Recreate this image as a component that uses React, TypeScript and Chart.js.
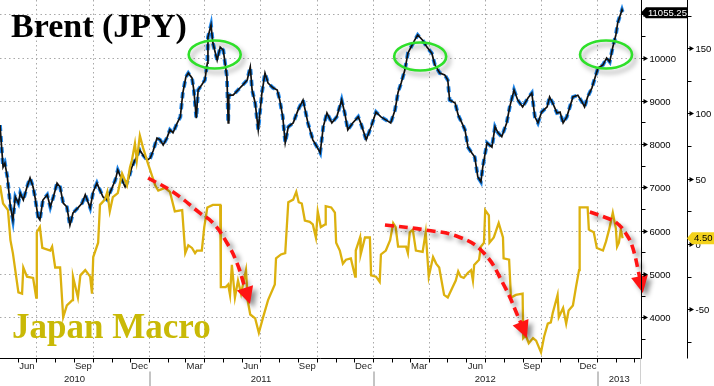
import React, { useEffect, useRef } from "react";
import { Chart, registerables } from "chart.js";
Chart.register(...registerables);

// x values are days counted from 2011-01-01
const brentDays = [-243,-238,-235,-231,-226,-222,-218,-213,-210,-205,-199,-194,-189,-186,-181,-178,-173,-166,-161,-156,-150,-145,-140,-134,-129,-124,-116,-109,-104,-99,-96,-91,-85,-80,-75,-68,-64,-55,-51,-44,-39,-34,-28,-23,-15,-10,-3,2,7,13,18,23,29,34,39,46,51,55,60,64,70,73,77,80,86,91,95,96,101,104,111,116,121,127,129,130,137,145,153,160,165,168,173,178,184,189,194,202,209,213,218,222,227,235,243,251,259,267,274,279,284,290,298,306,314,319,324,332,341,345,354,362,370,378,386,394,401,406,411,417,422,427,433,438,446,453,461,466,474,482,487,490,499,504,510,515,520,526,531,536,541,544,551,559,564,569,575,583,588,595,601,609,618,624,629,634,640,649,653,658,665,670,675,681,686,691,699,706,710,715,722,727,732,740,746,751,756,761,764,771,772];
const brentValues = [8440,7470,7560,7240,6550,6250,6780,6640,6870,6710,7010,7220,7010,6780,6320,6250,6710,6830,6550,6780,7100,7010,6640,6550,6130,6410,6530,6640,6830,6640,6530,6900,7100,6940,6780,6710,6870,7170,7400,7170,7010,7170,7470,7630,7860,7750,7630,7680,7860,8140,8100,7980,8140,8330,8260,8490,8630,9180,9550,9640,9530,9250,8600,9250,9370,9480,9870,10470,10750,10340,9940,10240,10170,9550,8490,9130,9130,9250,9370,9480,9780,9250,8950,8330,9180,9640,9410,9300,9250,9020,8630,8030,8400,8490,8790,9020,8490,8100,7930,7800,8400,8720,8490,8630,9020,8720,8330,8490,8630,8490,8100,8400,8740,8630,8560,8490,8790,9200,9410,9710,10100,10240,10400,10520,10400,10240,10100,9830,9640,9600,9480,9020,8950,8670,8490,8330,7930,7800,7700,7240,7130,7470,8030,7930,8400,8260,8170,8490,8860,9250,9020,8860,9070,9180,8630,8490,8740,8860,9090,8950,8720,8740,8490,8630,8860,9090,9130,8970,8860,9090,9300,9530,9760,9830,9990,9900,10240,10520,10800,11100,11055.25];

const macroDays = [-243,-238,-230,-226,-222,-213,-207,-205,-199,-189,-184,-183,-178,-174,-161,-158,-153,-145,-140,-134,-125,-124,-116,-112,-104,-96,-93,-91,-83,-80,-72,-68,-64,-59,-51,-44,-36,-31,-28,-23,-20,-15,-10,-2,10,15,26,34,42,54,59,64,70,75,78,86,90,95,104,109,116,117,125,129,132,135,140,145,150,158,161,165,173,179,186,194,205,207,215,222,227,235,240,244,249,254,262,267,272,275,280,287,288,297,303,305,311,316,321,329,336,337,344,345,352,360,362,370,376,378,386,393,398,402,406,419,422,425,430,435,446,451,456,463,468,473,481,487,495,500,504,508,513,520,525,528,530,538,541,546,548,554,555,562,570,577,578,587,590,598,609,610,614,619,626,631,639,644,650,655,658,666,668,675,680,684,691,696,701,702,715,717,725,730,740,745,750,756,761,763,766,769,772];
const macroValues = [45,31,26,3,-7,-37,-38,-18,-25,-26,-41,9,13,-3,-5,-2,-18,-18,-56,-47,-43,-25,-41,-24,-20,-25,-38,-10,1,30,34,40,25,36,39,54,45,59,64,77,64,83,74,62,45,41,43,40,25,26,-7,-1,-3,-7,-5,-5,13,28,30,30,30,-33,-33,-31,-39,-16,-41,-28,-38,-20,-44,-54,-57,-68,-56,-43,-31,-11,-8,-7,32,34,40,32,31,18,17,15,5,25,13,15,29,28,24,1,-5,-15,-12,-11,-25,-5,5,-8,5,5,-24,-25,-29,-8,-5,3,16,13,-2,-2,-7,9,11,-5,-6,9,-25,-10,-15,-18,-39,-41,-33,-28,-21,-25,-26,-22,-20,-28,-16,-12,-2,1,26,22,1,5,16,5,-11,-12,-41,-39,-38,-72,-70,-76,-72,-74,-83,-71,-61,-60,-53,-39,-56,-49,-61,-51,-47,-33,-20,28,28,11,9,-3,-5,2,11,24,12,-2,1,11,4.5];

// annotation arrows (in days / Japan Macro units)
const arrow1Days = [-1.6, 39.1, 83.1, 104.3, 127.1, 143.4, 156.4];
const arrow1Values = [50.6, 39.8, 23.7, 16.1, 0.8, -14.6, -33.7];
const arrow2Days = [384.6, 451.4, 505.1, 544.2, 576.8, 606.2];
const arrow2Values = [14.6, 10.7, 5.4, -6.1, -29.9, -60.5];
const arrow3Days = [718.6, 746.3, 762.6, 778.9, 788.7, 800.1];
const arrow3Values = [24.5, 19.9, 16.1, 6.9, -3.1, -26.0];
const arrowTipDays = [164.6, 616.0, 805.0];
const arrowTipValues = [-46.0, -72.0, -37.5];

// highlighted tops (days / Brent units)
const ellipseDays = [107, 442, 745];
const ellipseValues = [10070, 10023, 10070];

const brentTicks = [4000, 5000, 6000, 7000, 8000, 9000, 10000, 11000];
const brentMinorTicks = [3500, 4500, 5500, 6500, 7500, 8500, 9500, 10500];
const macroTicks = [150, 100, 50, 0, -50];
const macroMinorTicks = [175, 125, 75, 25, -25, -75];
const monthNames = ["Jan","Feb","Mar","Apr","May","Jun","Jul","Aug","Sep","Oct","Nov","Dec"];
const labelledMonths = ["Mar","Jun","Sep","Dec"];
const years = [2010, 2011, 2012, 2013];

const BASE = Date.UTC(2011, 0, 1);
const dayOf = (y: number, m: number) => (Date.UTC(y, m, 1) - BASE) / 86400000;
const X_MIN = -243;
const X_MAX = 802;

const pts = (xs: number[], ys: number[]) => xs.map((x, i) => ({ x, y: ys[i] }));

const LABEL_FONT = "9.5px 'Liberation Sans', Arial, sans-serif";

const overlay = {
  id: "overlay",
  beforeDatasetsDraw(chart: any) {
    const { ctx, chartArea: ca, scales } = chart;
    const x = scales.x, yB = scales.yB;
    ctx.save();
    ctx.strokeStyle = "#a9a9a9";
    ctx.lineWidth = 1;
    ctx.setLineDash([1.5, 3]);
    for (const v of brentTicks) {
      const y = Math.round(yB.getPixelForValue(v)) + 0.5;
      ctx.beginPath(); ctx.moveTo(ca.left, y); ctx.lineTo(ca.right, y); ctx.stroke();
    }
    for (let yr = 2010; yr <= 2013; yr++) {
      for (let m = 0; m < 12; m += 3) {
        const d = dayOf(yr, m);
        if (d <= X_MIN || d >= X_MAX) continue;
        const px = Math.round(x.getPixelForValue(d)) + 0.5;
        ctx.beginPath(); ctx.moveTo(px, ca.top); ctx.lineTo(px, ca.bottom); ctx.stroke();
      }
    }
    ctx.restore();
  },
  beforeDatasetDraw(chart: any, args: any) {
    const ds = chart.data.datasets[args.index];
    if (ds.isArrow) {
      const ctx = chart.ctx;
      ctx.save();
      ctx.shadowColor = "rgba(0,0,0,0.45)";
      ctx.shadowBlur = 5;
      ctx.shadowOffsetX = 4;
      ctx.shadowOffsetY = 4;
    }
  },
  afterDatasetDraw(chart: any, args: any) {
    const ds = chart.data.datasets[args.index];
    if (ds.isArrow) chart.ctx.restore();
  },
  afterDatasetsDraw(chart: any) {
    const { ctx, chartArea: ca, scales } = chart;
    const x = scales.x, yB = scales.yB, yM = scales.yM;
    ctx.save();

    // arrowheads
    const arrowLines = [
      [arrow1Days, arrow1Values], [arrow2Days, arrow2Values], [arrow3Days, arrow3Values],
    ];
    arrowLines.forEach((a, i) => {
      const xs = a[0], ys = a[1];
      const lx = x.getPixelForValue(xs[xs.length - 1]);
      const ly = yM.getPixelForValue(ys[ys.length - 1]);
      const tx = x.getPixelForValue(arrowTipDays[i]);
      const ty = yM.getPixelForValue(arrowTipValues[i]);
      const dx = tx - lx, dy = ty - ly;
      const len = Math.hypot(dx, dy);
      const ux = dx / len, uy = dy / len;
      const L = 17, W = 8.5;
      const bx = tx - ux * L, by = ty - uy * L;
      ctx.save();
      ctx.shadowColor = "rgba(0,0,0,0.45)";
      ctx.shadowBlur = 5;
      ctx.shadowOffsetX = 4;
      ctx.shadowOffsetY = 4;
      ctx.fillStyle = "#ff1414";
      ctx.beginPath();
      ctx.moveTo(tx, ty);
      ctx.lineTo(bx - uy * W, by + ux * W);
      ctx.lineTo(bx + uy * W, by - ux * W);
      ctx.closePath();
      ctx.fill();
      ctx.restore();
    });

    // green ellipses
    ellipseDays.forEach((d, i) => {
      const cx = x.getPixelForValue(d);
      const cy = yB.getPixelForValue(ellipseValues[i]);
      ctx.save();
      ctx.shadowColor = "rgba(0,0,0,0.35)";
      ctx.shadowBlur = 5;
      ctx.shadowOffsetX = 3;
      ctx.shadowOffsetY = 4;
      ctx.strokeStyle = "#2fe02a";
      ctx.lineWidth = 2.6;
      ctx.beginPath();
      ctx.ellipse(cx, cy, 26, 14, 0, 0, Math.PI * 2);
      ctx.stroke();
      ctx.restore();
    });

    // axis lines
    ctx.strokeStyle = "#000";
    ctx.fillStyle = "#000";
    ctx.lineWidth = 1;
    const bottom = Math.round(ca.bottom) + 0.5;
    const right1 = Math.round(ca.right) + 0.5;
    const right2 = right1 + 46;
    ctx.beginPath(); ctx.moveTo(0, bottom); ctx.lineTo(right1, bottom); ctx.stroke();
    ctx.beginPath(); ctx.moveTo(right1, 0); ctx.lineTo(right1, bottom); ctx.stroke();
    ctx.beginPath(); ctx.moveTo(right2, 0); ctx.lineTo(right2, bottom); ctx.stroke();

    // month ticks + labels
    ctx.font = LABEL_FONT;
    ctx.fillStyle = "#222";
    ctx.textAlign = "center";
    ctx.textBaseline = "middle";
    for (let yr = 2010; yr <= 2013; yr++) {
      for (let m = 0; m < 12; m++) {
        const d = dayOf(yr, m);
        const dn = dayOf(yr, m + 1);
        if (d >= X_MIN && d <= X_MAX) {
          const px = Math.round(x.getPixelForValue(d)) + 0.5;
          ctx.beginPath(); ctx.moveTo(px, bottom); ctx.lineTo(px, bottom + 4); ctx.stroke();
        }
        if (labelledMonths.includes(monthNames[m]) && d >= X_MIN && dn <= X_MAX) {
          const cx = x.getPixelForValue((d + dn) / 2);
          ctx.fillText(monthNames[m], cx, bottom + 8);
        }
      }
    }
    // years
    years.forEach((yr) => {
      const s = Math.max(dayOf(yr, 0), X_MIN);
      const e = Math.min(dayOf(yr + 1, 0), X_MAX);
      const cx = (x.getPixelForValue(s) + x.getPixelForValue(e)) / 2;
      ctx.fillText(String(yr), cx, bottom + 20.5);
      const j = dayOf(yr, 0);
      if (j > X_MIN && j < X_MAX) {
        const px = Math.round(x.getPixelForValue(j)) + 1;
        ctx.save();
        ctx.strokeStyle = "#c4c4c4";
        ctx.lineWidth = 2;
        ctx.beginPath(); ctx.moveTo(px, bottom + 13); ctx.lineTo(px, chart.height); ctx.stroke();
        ctx.restore();
      }
    });
    ctx.save();
    ctx.strokeStyle = "#d0d0d0";
    ctx.beginPath(); ctx.moveTo(right1 - 1, bottom); ctx.lineTo(right1 - 1, chart.height - 2); ctx.stroke();
    ctx.restore();

    // right axis ticks
    const arrowTick = (ax: number, y: number) => {
      ctx.beginPath(); ctx.moveTo(ax, y); ctx.lineTo(ax + 3, y); ctx.stroke();
      ctx.beginPath(); ctx.moveTo(ax + 2, y - 2.5); ctx.lineTo(ax + 6.5, y); ctx.lineTo(ax + 2, y + 2.5); ctx.closePath(); ctx.fill();
    };
    ctx.fillStyle = "#000";
    ctx.textAlign = "left";
    for (const v of brentTicks) {
      const y = Math.round(yB.getPixelForValue(v)) + 0.5;
      arrowTick(right1, y);
      ctx.fillText(String(v), right1 + 8, y + 0.5);
    }
    for (const v of brentMinorTicks) {
      const y = Math.round(yB.getPixelForValue(v)) + 0.5;
      ctx.beginPath(); ctx.moveTo(right1, y); ctx.lineTo(right1 + 4, y); ctx.stroke();
    }
    for (const v of macroTicks) {
      const y = Math.round(yM.getPixelForValue(v)) + 0.5;
      arrowTick(right2, y);
      ctx.fillText(String(v), right2 + 8, y + 0.5);
    }
    for (const v of macroMinorTicks) {
      const y = Math.round(yM.getPixelForValue(v)) + 0.5;
      ctx.beginPath(); ctx.moveTo(right2, y); ctx.lineTo(right2 + 4, y); ctx.stroke();
    }

    // last value tags
    const tag = (ax: number, y: number, w: number, h: number, fill: string, color: string, text: string) => {
      ctx.fillStyle = fill;
      ctx.beginPath();
      ctx.moveTo(ax, y);
      ctx.lineTo(ax + 5, y - h / 2);
      ctx.lineTo(ax + w, y - h / 2);
      ctx.lineTo(ax + w, y + h / 2);
      ctx.lineTo(ax + 5, y + h / 2);
      ctx.closePath();
      ctx.fill();
      ctx.fillStyle = color;
      ctx.textAlign = "left";
      ctx.fillText(text, ax + 7, y + 0.5);
    };
    const lastB = brentValues[brentValues.length - 1];
    tag(right1 - 0.5, yB.getPixelForValue(lastB) + 1, 47, 11, "#000", "#fff", lastB.toFixed(2));
    const lastM = macroValues[macroValues.length - 1];
    tag(right2 - 0.5, yM.getPixelForValue(lastM), 32, 12, "#f3d21c", "#000", lastM.toFixed(2));

    // titles
    ctx.textBaseline = "alphabetic";
    ctx.textAlign = "left";
    ctx.fillStyle = "#000";
    ctx.font = "bold 34px 'Liberation Serif', 'Times New Roman', serif";
    ctx.fillText("Brent (JPY)", 11, 37);
    ctx.fillStyle = "#c9b906";
    ctx.font = "bold 35px 'Liberation Serif', 'Times New Roman', serif";
    ctx.fillText("Japan Macro", 12, 338);
    ctx.restore();
  },
};

export default function App() {
  const ref = useRef<HTMLCanvasElement | null>(null);
  useEffect(() => {
    if (!ref.current) return;
    const arrowDs = (xs: number[], ys: number[]) => ({
      data: pts(xs, ys),
      yAxisID: "yM",
      borderColor: "#ff1414",
      borderWidth: 3.6,
      borderDash: [9, 5],
      borderCapStyle: "butt",
      pointRadius: 0,
      tension: 0.45,
      fill: false,
      clip: false,
      order: 0,
      isArrow: true,
    });
    const chart = new Chart(ref.current, {
      type: "line",
      data: {
        datasets: [
          arrowDs(arrow1Days, arrow1Values),
          arrowDs(arrow2Days, arrow2Values),
          arrowDs(arrow3Days, arrow3Values),
          {
            label: "Japan Macro",
            data: pts(macroDays, macroValues),
            yAxisID: "yM",
            borderColor: "#dcb10e",
            borderWidth: 2.3,
            pointRadius: 0,
            tension: 0,
            order: 1,
          },
          {
            label: "Brent (JPY)",
            data: pts(brentDays, brentValues),
            yAxisID: "yB",
            borderColor: "#111111",
            borderWidth: 1.7,
            pointRadius: 0,
            tension: 0,
            order: 2,
          },
          {
            label: "Brent (JPY) down days",
            data: pts(brentDays, brentValues),
            yAxisID: "yB",
            borderColor: "#1f86ea",
            borderWidth: 3.8,
            borderDash: [6, 5],
            borderCapStyle: "butt",
            pointRadius: 0,
            tension: 0,
            order: 3,
          },
        ] as any,
      },
      options: {
        animation: false,
        responsive: false,
        layout: { padding: { left: 0, top: 0, right: 73, bottom: 28 } },
        plugins: { legend: { display: false }, tooltip: { enabled: false } },
        events: [],
        scales: {
          x: { type: "linear", min: X_MIN, max: X_MAX, display: false },
          yB: { type: "linear", position: "right", min: 3062, max: 11328, display: false },
          yM: { type: "linear", position: "right", min: -87.3, max: 186.9, display: false },
        },
      } as any,
      plugins: [overlay],
    });
    return () => chart.destroy();
  }, []);
  return (
    <div style={{ position: "fixed", left: 0, top: 0, width: 714, height: 386, background: "#fff" }}>
      <canvas ref={ref} width={714} height={386} style={{ display: "block" }} />
    </div>
  );
}
